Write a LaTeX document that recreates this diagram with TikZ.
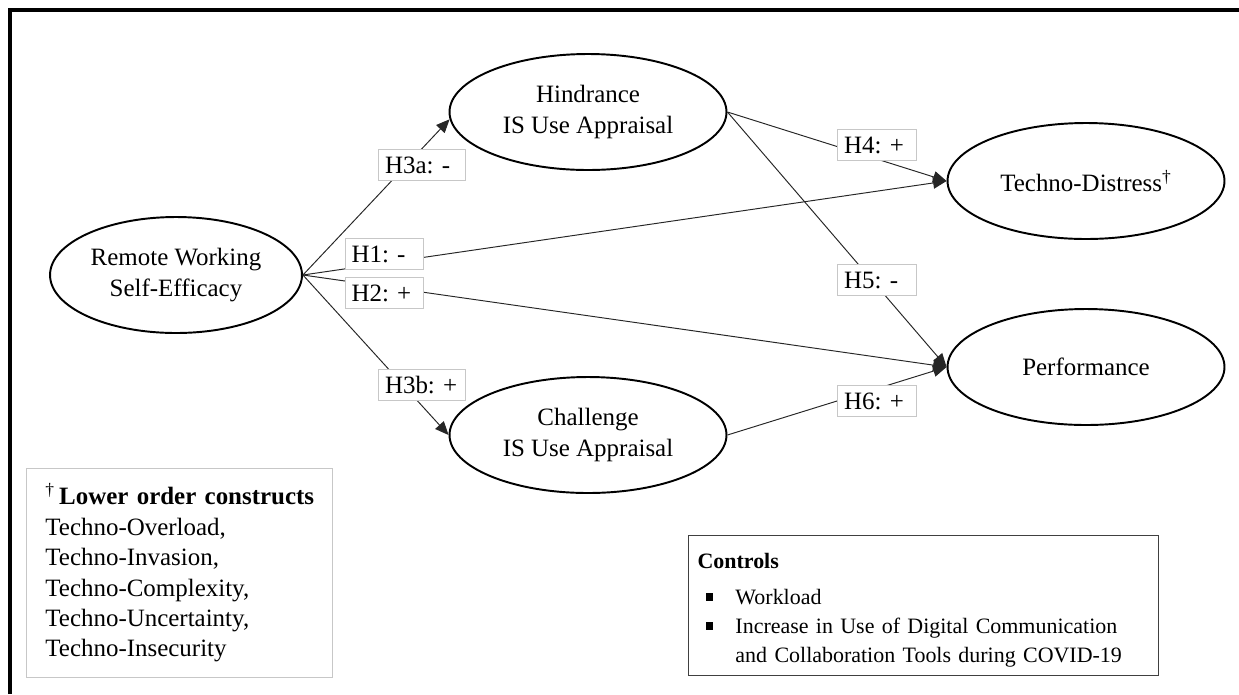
\documentclass[tikz,border=0pt]{standalone}
\usepackage{fontspec}
\setmainfont{Liberation Serif}
\usetikzlibrary{arrows.meta,shapes.geometric}
\frenchspacing

\newcommand{\ctrlitem}{\makebox[21.6pt][l]{\hspace{4.6pt}\rule[2.5pt]{4pt}{4pt}}}

\tikzset{construct/.style={ellipse, draw, line width=1.1pt, align=center, minimum width=5.54cm, minimum height=2.32cm, inner sep=0pt},
	hyp/.style={draw=black!22, fill=white, line width=0.5pt, align=left, inner xsep=0.13cm, inner ysep=0pt, minimum height=0.62cm},
	link/.style={draw=black!85, line width=0.55pt, -{Triangle[length=0.27cm, width=0.23cm]}}}

\begin{document}
\begin{tikzpicture}[x=0.02cm, y=-0.02cm, font=\fontsize{14.2}{17.5}\selectfont]
			\useasboundingbox (0,0) rectangle (1239,694);
			\draw[line width=0.08cm] (10,694) -- (10,10) -- (1239,10);
			
			\node[construct, minimum width=5.04cm] (RW) at (176,275) {Remote Working\\Self-Efficacy};
			\node[construct] (HA) at (588,112) {Hindrance\\IS Use Appraisal};
			\node[construct] (CA) at (588,435) {Challenge\\IS Use Appraisal};
			\node[construct] (TD) at (1086,181) {Techno-Distress\textsuperscript{\textdagger}};
			\node[construct] (PF) at (1086,367) {Performance};
			
			\draw[link] (RW.east) -- (HA.183);
			\draw[link] (RW.east) -- (CA.west);
			\draw[link] (RW.east) -- (TD.west);
			\draw[link] (RW.east) -- (PF.west);
			\draw[link] (HA.east) -- (TD.west);
			\draw[link] (HA.east) -- (PF.west);
			\draw[link] (CA.east) -- (PF.west);
			
			\node[hyp, text width=1.48cm] (H3a) at (422,165) {H3a: -};
			\node[hyp, text width=1.30cm] (H1) at (384,254) {H1: -};
			\node[hyp, text width=1.30cm] (H2) at (384,293) {H2: +};
			\node[hyp, text width=1.48cm] (H3b) at (422,385) {H3b: +};
			\node[hyp, text width=1.32cm] (H4) at (877,145) {H4: +};
			\node[hyp, text width=1.32cm] (H5) at (877,280) {H5: -};
			\node[hyp, text width=1.32cm] (H6) at (877,401) {H6: +};
			
			\node[draw=black!22, line width=0.5pt, anchor=north west, align=left, inner xsep=0.38cm,
				text width=5.36cm, minimum width=6.12cm, minimum height=4.18cm, font=\fontsize{14.2}{17.3}\selectfont]
				(lower) at (26,468) {\mbox{\textsuperscript{\textdagger}\,\textbf{Lower order constructs}}\\
				Techno-Overload,\\ Techno-Invasion,\\ Techno-Complexity,\\ Techno-Uncertainty,\\ Techno-Insecurity};
			
			\node[draw=black!75, line width=0.6pt, anchor=north west, align=left, inner xsep=0.18cm, inner ysep=2pt,
				text width=9.04cm, minimum width=9.4cm, minimum height=2.8cm, font=\fontsize{12.5}{16.5}\selectfont]
				(controls) at (688,535) {\rule{0pt}{14pt}\textbf{Controls}\\[4.5pt]
				\ctrlitem Workload\\
				\ctrlitem Increase in Use of Digital Communication\\
				\hspace*{21.6pt}and Collaboration Tools during COVID-19};
		\end{tikzpicture}
\end{document}
